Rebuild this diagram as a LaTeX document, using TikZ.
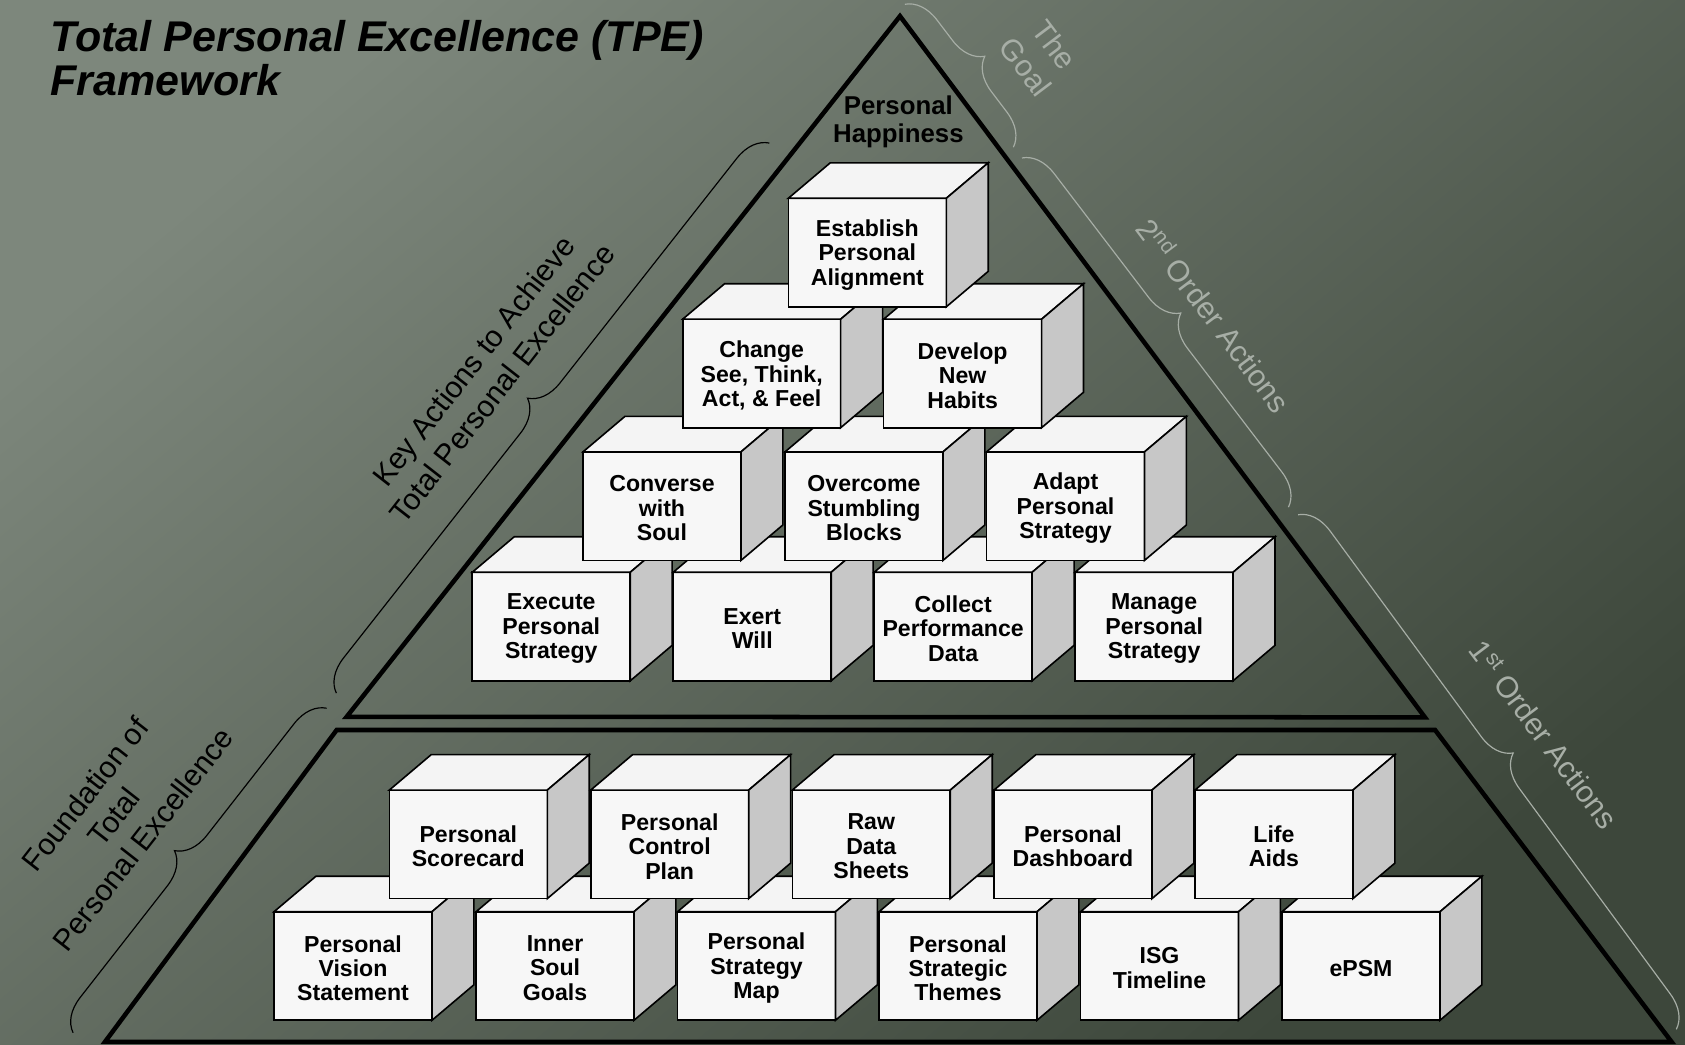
\documentclass[tikz,border=0pt]{standalone}
\usepackage{fontspec}
\setmainfont{Liberation Sans}
\usetikzlibrary{decorations.pathreplacing}
\definecolor{bgA}{HTML}{7D877C}
\definecolor{bgB}{HTML}{3D473B}
\definecolor{cubefrontc}{HTML}{F7F7F7}
\definecolor{cubetopc}{HTML}{F4F4F4}
\definecolor{cubesidec}{HTML}{C7C7C7}
\definecolor{paleline}{HTML}{A7AEA6}
\tikzset{
  cubetext/.style={inner sep=0pt, align=center, font=\bfseries\fontsize{21.5}{22.7}\selectfont},
  cubeface/.style={draw=black, line width=1.5pt, line join=miter},
  frame/.style={draw=black, line width=4.2pt, line join=miter},
  bracedark/.style={draw=black, line width=1.1pt, decorate, decoration={brace, amplitude=30pt}},
  bracepale/.style={draw=paleline, line width=1.1pt, decorate, decoration={brace, amplitude=30pt}},
  lbldark/.style={align=center, text=black, font=\fontsize{28}{34}\selectfont, inner sep=0pt},
  lblpale/.style={align=center, text=paleline, font=\fontsize{28}{34}\selectfont, inner sep=0pt},
  titlefont/.style={anchor=base west, inner sep=0pt, font=\bfseries\itshape\fontsize{40}{41}\selectfont},
}
\newcommand\tpecube[4]{%
  \coordinate (#1-tl) at (#2,#3);
  \coordinate (#1-tr) at (#2+147,#3);
  \coordinate (#1-br) at (#2+147,#3+101);
  \draw[cubeface, fill=cubefrontc] (#1-tl) rectangle (#1-br);
  \draw[cubeface, fill=cubetopc] (#1-tl) -- ++(39,-33) -- ++(147,0) -- (#1-tr) -- cycle;
  \draw[cubeface, fill=cubesidec] (#1-tr) -- ++(39,-33) -- ++(0,101) -- (#1-br) -- cycle;
  \node[cubetext] (#1) at (#2+73.5,#3+52.5) {#4};
}
\begin{document}
\begin{tikzpicture}[x=1pt,y=-1pt]
\useasboundingbox (0,0) rectangle (1568,972);
\shade[shading=axis, top color=bgA, bottom color=bgB, shading angle=40] (0,0) rectangle (1568,972);

% title
\node[titlefont] (title1) at (47,48) {Total Personal Excellence (TPE)};
\node[titlefont] (title2) at (47,88.5) {Framework};

% frames
\draw[frame] (837.5,15) -- (1326,667.5) -- (322.6,667) -- cycle;
\draw[frame] (313.3,679.3) -- (1335.4,679.3) -- (1555.5,969.5) -- (97.7,969.5) -- cycle;

\node[font=\bfseries\fontsize{24}{26}\selectfont, align=center, inner sep=0pt] (happy) at (836,113) {Personal\\Happiness};

% pyramid cubes
\tpecube{execute}{439.5}{532.5}{Execute\\Personal\\Strategy}
\tpecube{exert}{626.5}{532.5}{Exert\\Will}
\tpecube{collect}{813.5}{532.5}{Collect\\Performance\\Data}
\tpecube{manage}{1000.5}{532.5}{Manage\\Personal\\Strategy}
\tpecube{converse}{542.5}{420.5}{Converse\\with\\Soul}
\tpecube{overcome}{730.5}{420.5}{Overcome\\Stumbling\\Blocks}
\tpecube{adapt}{918}{420.5}{Adapt\\Personal\\Strategy}
\tpecube{change}{635.3}{297}{Change\\See, Think,\\Act, \& Feel}
\tpecube{develop}{822.3}{297}{Develop\\New\\Habits}
\tpecube{establish}{733.6}{184.5}{Establish\\Personal\\Alignment}

% foundation cubes
\tpecube{vision}{255}{848.4}{Personal\\Vision\\Statement}
\tpecube{innersoul}{443}{848.4}{Inner\\Soul\\Goals}
\tpecube{stratmap}{630.5}{848.4}{Personal\\Strategy\\Map}
\tpecube{themes}{818}{848.4}{Personal\\Strategic\\Themes}
\tpecube{isg}{1005.5}{848.4}{ISG\\Timeline}
\tpecube{epsm}{1193}{848.4}{ePSM}
\tpecube{scorecard}{362.3}{735.2}{Personal\\Scorecard}
\tpecube{control}{549.7}{735.2}{Personal\\Control\\Plan}
\tpecube{rawdata}{737.3}{735.2}{Raw\\Data\\Sheets}
\tpecube{dashboard}{925}{735.2}{Personal\\Dashboard}
\tpecube{lifeaids}{1112}{735.2}{Life\\Aids}

% braces
\coordinate (gA) at (842,4);
\coordinate (gB) at (943,137);
\coordinate (sA) at (951,147);
\coordinate (sB) at (1199,472);
\coordinate (fA) at (1208,479);
\coordinate (fB) at (1560,958);
\coordinate (kA) at (313,645);
\coordinate (kB) at (716,133);
\coordinate (nA) at (68,961);
\coordinate (nB) at (304,659);
\draw[bracepale] (gA) -- (gB);
\draw[bracepale] (sA) -- (sB);
\draw[bracepale] (fA) -- (fB);
\draw[bracedark] (kA) -- (kB);
\draw[bracedark] (nA) -- (nB);

% labels
\node[lblpale, rotate=-53] (goal) at (968,52) {The\\Goal};
\node[lblpale, rotate=-53] (ord2) at (1130,293) {2\textsuperscript{nd} Order Actions};
\node[lblpale, rotate=-53] (ord1) at (1437,683) {1\textsuperscript{st} Order Actions};
\node[lbldark, rotate=52] (keyact) at (454,346) {Key Actions to Achieve\\Total Personal Excellence};
\node[lbldark, rotate=52] (found) at (106,760) {Foundation of\\Total\\Personal Excellence};
\end{tikzpicture}
\end{document}
